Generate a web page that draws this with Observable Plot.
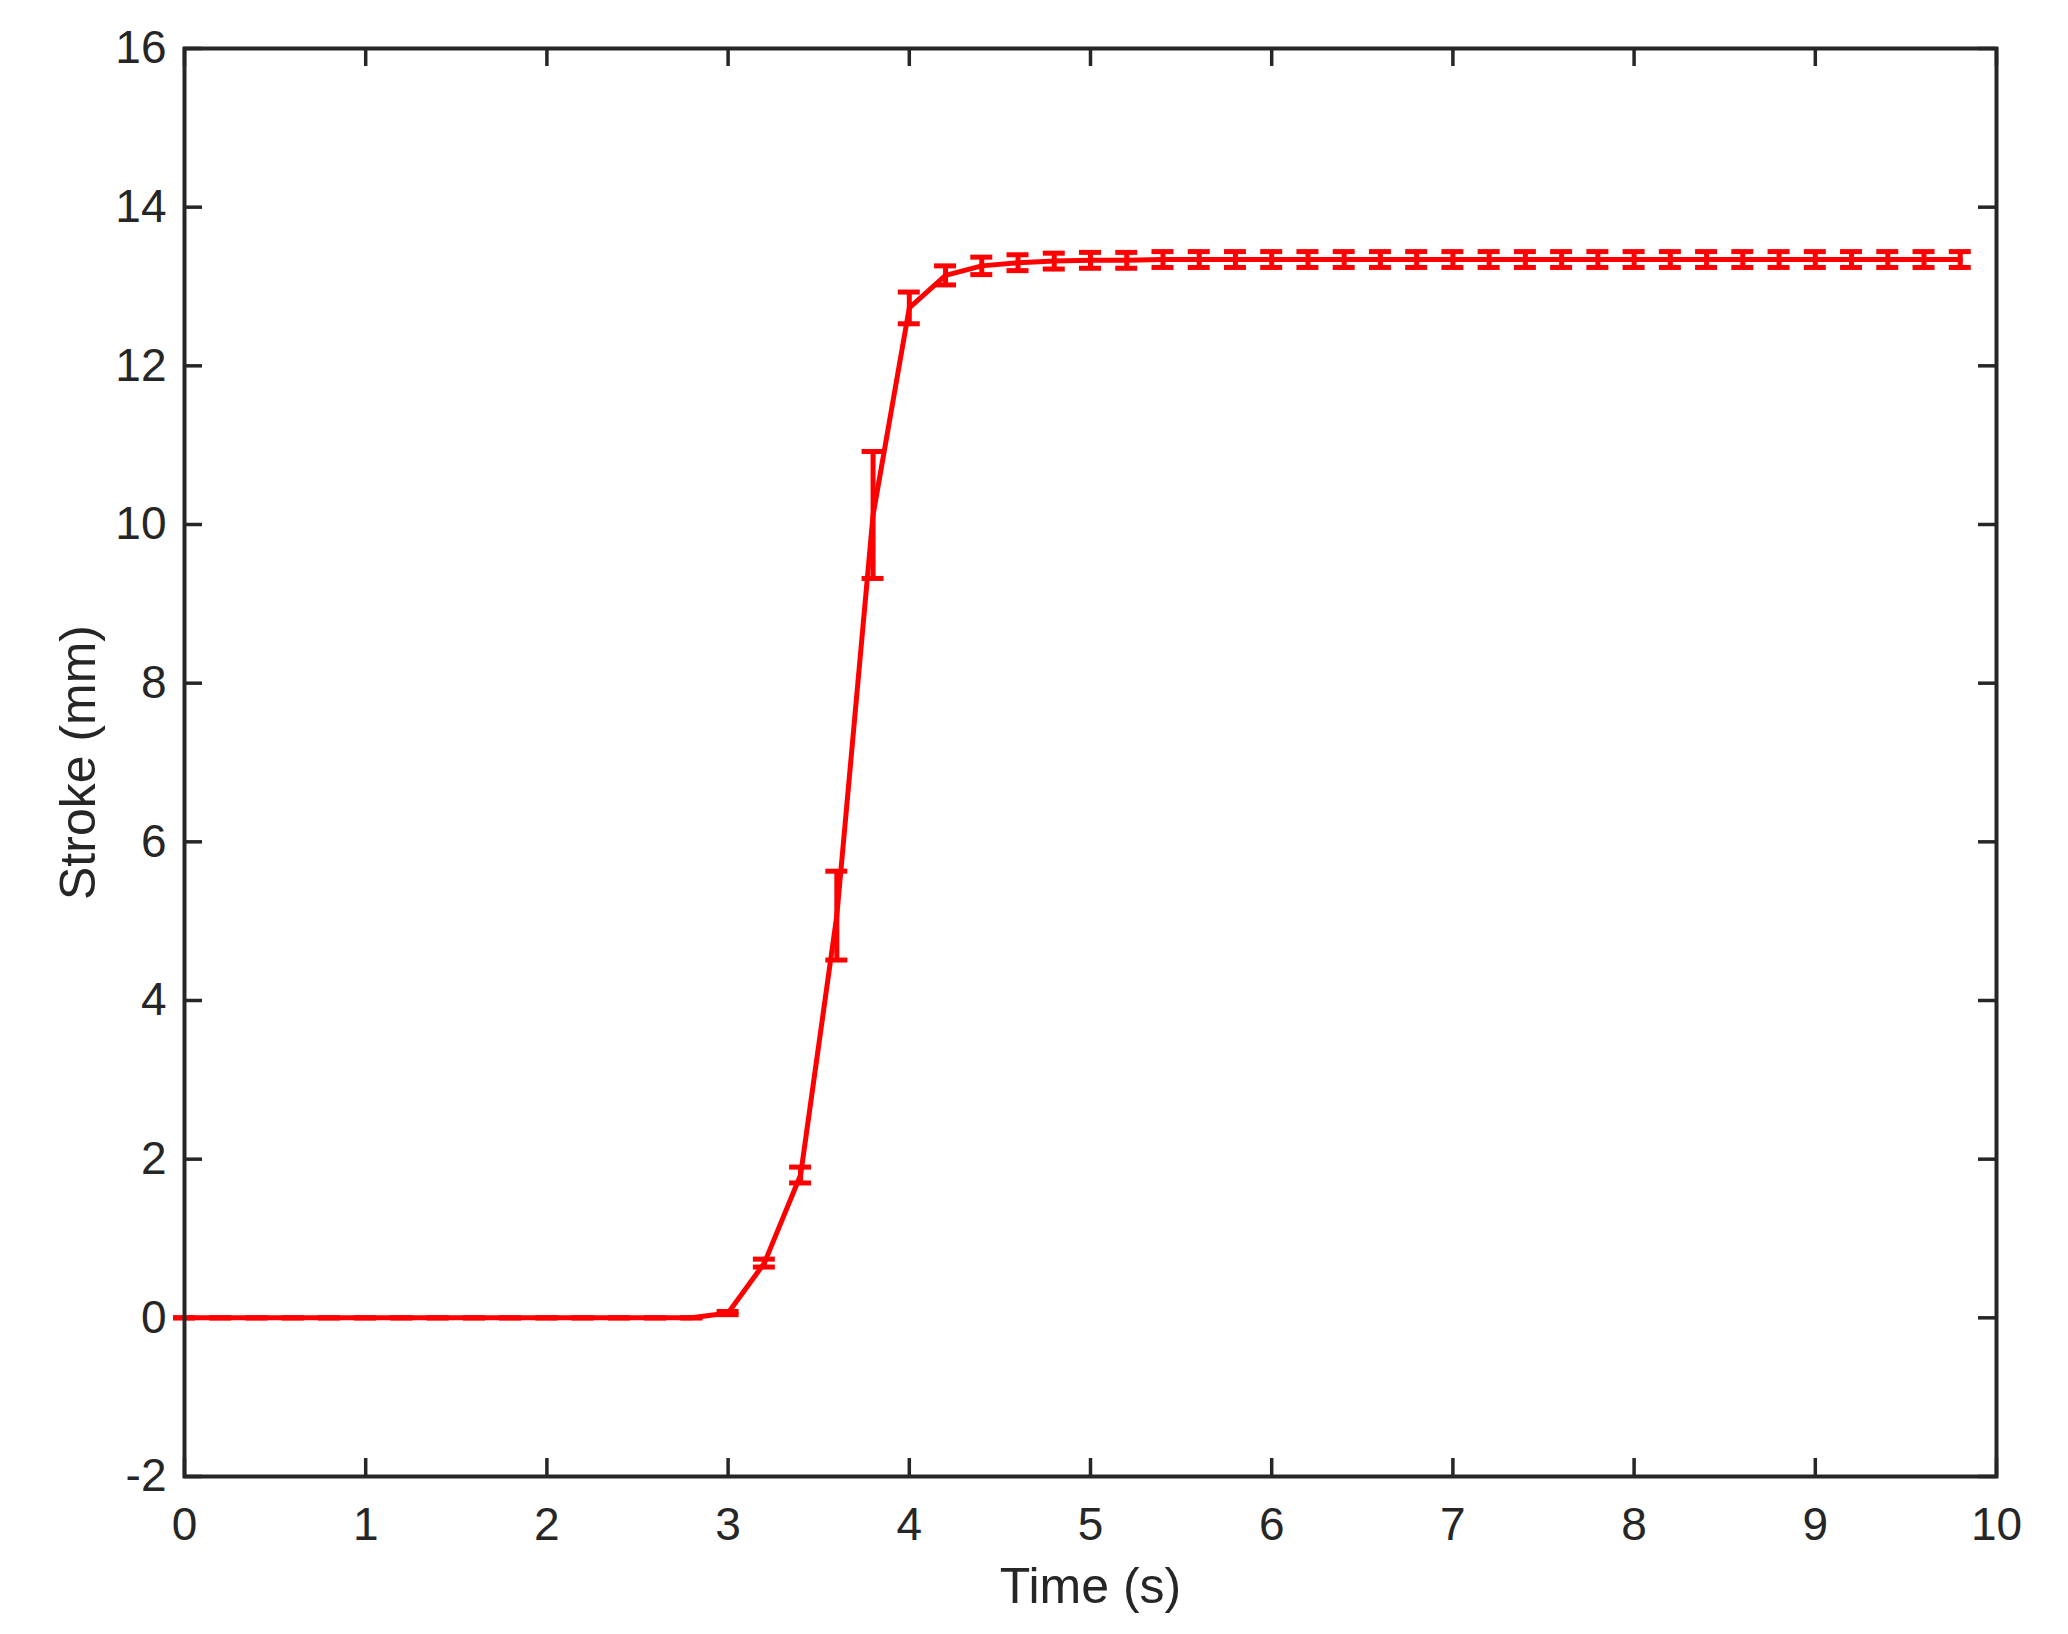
<!DOCTYPE html>
<html>
<head>
<meta charset="utf-8">
<script src="https://cdn.jsdelivr.net/npm/d3@7"></script>
<script src="https://cdn.jsdelivr.net/npm/@observablehq/plot@0.6"></script>
<style>
  html, body { margin: 0; padding: 0; background: #ffffff; }
  #chart svg { display: block; }
</style>
</head>
<body>
<div id="chart"></div>
<script>
// Time (s)
const time = [0, 0.2, 0.4, 0.6, 0.8, 1.0, 1.2, 1.4, 1.6, 1.8,
              2.0, 2.2, 2.4, 2.6, 2.8, 3.0, 3.2, 3.4, 3.6, 3.8,
              4.0, 4.2, 4.4, 4.6, 4.8, 5.0, 5.2, 5.4, 5.6, 5.8,
              6.0, 6.2, 6.4, 6.6, 6.8, 7.0, 7.2, 7.4, 7.6, 7.8,
              8.0, 8.2, 8.4, 8.6, 8.8, 9.0, 9.2, 9.4, 9.6, 9.8];
// Mean stroke (mm)
const stroke = [0, 0, 0, 0, 0, 0, 0, 0, 0, 0,
                0, 0, 0, 0, 0, 0.06, 0.69, 1.80, 5.07, 10.12,
                12.73, 13.14, 13.26, 13.30, 13.32, 13.33, 13.33, 13.34, 13.34, 13.34,
                13.34, 13.34, 13.34, 13.34, 13.34, 13.34, 13.34, 13.34, 13.34, 13.34,
                13.34, 13.34, 13.34, 13.34, 13.34, 13.34, 13.34, 13.34, 13.34, 13.34];
// Error half-width (mm)
const errHalf = [0, 0, 0, 0, 0, 0, 0, 0, 0, 0,
                 0, 0, 0, 0, 0, 0.02, 0.05, 0.10, 0.56, 0.80,
                 0.20, 0.12, 0.11, 0.10, 0.10, 0.10, 0.10, 0.10, 0.10, 0.10,
                 0.10, 0.10, 0.10, 0.10, 0.10, 0.10, 0.10, 0.10, 0.10, 0.10,
                 0.10, 0.10, 0.10, 0.10, 0.10, 0.10, 0.10, 0.10, 0.10, 0.10];

const xTicks = [0, 1, 2, 3, 4, 5, 6, 7, 8, 9, 10];
const yTicks = [-2, 0, 2, 4, 6, 8, 10, 12, 14, 16];
const xLabel = "Time (s)";
const yLabel = "Stroke (mm)";

const data = time.map((t, i) => ({t, m: stroke[i], lo: stroke[i] - errHalf[i], hi: stroke[i] + errHalf[i]}));

const W = 2068, H = 1634;
const mL = 184, mR = 72, mT = 48, mB = 158;
const innerW = W - mL - mR, innerH = H - mT - mB;
const tickLen = 18;
const axisColor = "#262626";
const red = "#ff0000";
const fmt = d => String(d);

const chart = Plot.plot({
  width: W,
  height: H,
  marginLeft: mL,
  marginRight: mR,
  marginTop: mT,
  marginBottom: mB,
  style: {fontFamily: "'Liberation Sans', Arial, Helvetica, sans-serif", color: axisColor, background: "#ffffff"},
  x: {domain: [0, 10]},
  y: {domain: [-2, 16]},
  marks: [
    // inward tick marks on all four sides
    Plot.tickX(xTicks, {x: d => d, stroke: axisColor, strokeWidth: 3.5, insetTop: innerH - tickLen}),
    Plot.tickX(xTicks, {x: d => d, stroke: axisColor, strokeWidth: 3.5, insetBottom: innerH - tickLen}),
    Plot.tickY(yTicks, {y: d => d, stroke: axisColor, strokeWidth: 3.5, insetRight: innerW - tickLen}),
    Plot.tickY(yTicks, {y: d => d, stroke: axisColor, strokeWidth: 3.5, insetLeft: innerW - tickLen}),
    // tick labels
    Plot.axisX(xTicks, {tickSize: 0, tickPadding: 31, fontSize: 46, label: null, fill: axisColor, tickFormat: fmt}),
    Plot.axisY(yTicks, {tickSize: 0, tickPadding: 18, fontSize: 46, label: null, fill: axisColor, tickFormat: fmt}),
    // axis titles
    Plot.text([xLabel], {frameAnchor: "bottom", dy: 110, fontSize: 50, fill: axisColor, lineAnchor: "middle", textAnchor: "middle"}),
    Plot.text([yLabel], {frameAnchor: "left", dx: -106, rotate: -90, fontSize: 50, fill: axisColor, lineAnchor: "middle", textAnchor: "middle"}),
    // mean line
    Plot.line(data, {x: "t", y: "m", stroke: red, strokeWidth: 5}),
    // error bars
    Plot.ruleX(data, {x: "t", y1: "lo", y2: "hi", stroke: red, strokeWidth: 5}),
    Plot.ruleY(data, {y: "lo", x1: "t", x2: "t", insetLeft: -11, insetRight: -11, stroke: red, strokeWidth: 5}),
    Plot.ruleY(data, {y: "hi", x1: "t", x2: "t", insetLeft: -11, insetRight: -11, stroke: red, strokeWidth: 5}),
    // frame
    Plot.frame({stroke: axisColor, strokeWidth: 4})
  ]
});
document.getElementById("chart").appendChild(chart);
</script>
</body>
</html>
